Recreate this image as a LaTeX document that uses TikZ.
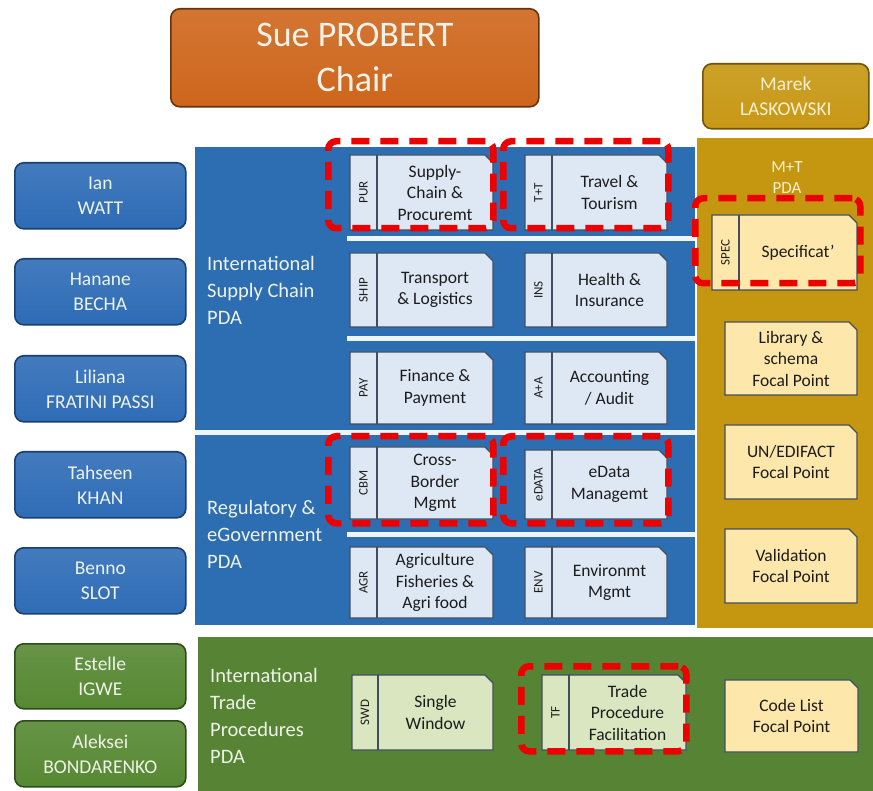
\documentclass[tikz,border=0pt]{standalone}
\usepackage{fontspec}
\setmainfont{Carlito}
\usetikzlibrary{calc}

\definecolor{panelblue}{RGB}{45,110,178}
\definecolor{btnblue}{RGB}{46,108,182}
\definecolor{btnblueedge}{RGB}{26,64,112}
\definecolor{cardblue}{RGB}{222,232,244}
\definecolor{panelgold}{RGB}{197,150,16}
\definecolor{btngold}{RGB}{200,152,22}
\definecolor{btngoldedge}{RGB}{112,84,8}
\definecolor{cardgold}{RGB}{253,231,170}
\definecolor{panelgreen}{RGB}{86,132,52}
\definecolor{btngreen}{RGB}{86,136,50}
\definecolor{btngreenedge}{RGB}{44,76,26}
\definecolor{cardgreen}{RGB}{218,230,192}
\definecolor{chairorange}{RGB}{206,102,28}
\definecolor{chairedge}{RGB}{104,50,12}
\definecolor{cardedge}{RGB}{66,78,96}
\definecolor{paletext}{RGB}{238,242,232}
\definecolor{goldtext}{RGB}{250,240,205}
\definecolor{inktext}{RGB}{28,28,28}
\definecolor{sepwhite}{RGB}{238,245,250}
\definecolor{markred}{RGB}{236,0,0}

% card with a tag strip on its left and a clipped top-right corner
\newcommand\tagcard[9]{%
  \node[cardframe, minimum width=#4, minimum height=#5] (#1) at (#2,#3) {};
  \path[cardbody, fill=#7] (#1.north west) -- ([xshift=-8pt]#1.north east)
    -- ([yshift=-8pt]#1.north east) -- (#1.south east) -- (#1.south west) -- cycle;
  \draw[divider] ([xshift=#6pt]#1.north west) -- ([xshift=#6pt]#1.south west);
  \node[tagtext] (#1-tag) at ([xshift=#6pt/2]#1.west) {#8};
  \node[cardtext] (#1-txt) at ([xshift=#6pt/2]#1.center) {#9};
}
% card without a tag strip
\newcommand\plaincard[7]{%
  \node[cardframe, minimum width=#4, minimum height=#5] (#1) at (#2,#3) {};
  \path[cardbody, fill=#6] (#1.north west) -- ([xshift=-8pt]#1.north east)
    -- ([yshift=-8pt]#1.north east) -- (#1.south east) -- (#1.south west) -- cycle;
  \node[cardtext] (#1-txt) at (#1.center) {#7};
}

\begin{document}
\begin{tikzpicture}[x=1pt,y=-1pt,
  panel/.style={anchor=north west, inner sep=0, outer sep=0, draw=none},
  button/.style={anchor=north west, inner sep=0, rounded corners=9pt, line width=1.6pt,
    align=center, font=\fontsize{19.5}{25}\selectfont},
  bluebtn/.style={button, draw=btnblueedge, top color=btnblue!90!white, bottom color=btnblue, text=paletext},
  greenbtn/.style={button, draw=btngreenedge, top color=btngreen!90!white, bottom color=btngreen, text=paletext},
  goldbtn/.style={button, draw=btngoldedge, top color=btngold!92!white, bottom color=btngold, text=goldtext},
  chairbtn/.style={button, draw=chairedge, top color=chairorange!90!white, bottom color=chairorange,
    text=paletext, font=\fontsize{36}{45}\selectfont},
  pdalabel/.style={anchor=west, align=left, text=paletext, inner sep=0, font=\fontsize{20.5}{27}\selectfont},
  sepline/.style={draw=sepwhite, line width=5pt},
  cardframe/.style={anchor=north west, inner sep=0, outer sep=0},
  cardbody/.style={draw=cardedge, line width=1.3pt},
  divider/.style={draw=cardedge, line width=1.3pt},
  tagtext/.style={rotate=90, inner sep=0, text=inktext, font=\fontsize{13}{14}\selectfont},
  cardtext/.style={align=center, inner sep=0, text=inktext, font=\fontsize{17.5}{21.5}\selectfont},
  markbox/.style={anchor=north west, inner sep=0, draw=markred, line width=6.5pt,
    dash pattern=on 18pt off 11pt, rounded corners=8pt}
]
\useasboundingbox (0,0) rectangle (873,791);
\fill[white] (0,0) rectangle (873,791);

% background panels
\node[panel, fill=panelblue, minimum width=500, minimum height=478] (bluepanel) at (195,147) {};
\node[panel, fill=panelgold, minimum width=176, minimum height=490] (goldpanel) at (697,138) {};
\node[panel, fill=panelgreen, minimum width=675, minimum height=154] (greenpanel) at (198,637) {};

% white separators inside the blue panel
\draw[sepline] (347,239) -- (695,239);
\draw[sepline] (347,339) -- (695,339);
\draw[sepline] (195,433) -- (695,433);
\draw[sepline] (347,534) -- (695,534);

% chair and leads
\node[chairbtn, minimum width=368, minimum height=98] (chair) at (170,8) {Sue PROBERT\\Chair};
\node[goldbtn, minimum width=166, minimum height=65] (marek) at (702,63) {Marek\\LASKOWSKI};

\node[bluebtn, minimum width=171, minimum height=66] (ian) at (14,162) {Ian\\WATT};
\node[bluebtn, minimum width=171, minimum height=66] (hanane) at (14,258) {Hanane\\BECHA};
\node[bluebtn, minimum width=171, minimum height=66] (liliana) at (14,355) {Liliana\\FRATINI PASSI};
\node[bluebtn, minimum width=171, minimum height=66] (tahseen) at (14,451) {Tahseen\\KHAN};
\node[bluebtn, minimum width=171, minimum height=66] (benno) at (14,547) {Benno\\SLOT};
\node[greenbtn, minimum width=171, minimum height=65] (estelle) at (14,643) {Estelle\\IGWE};
\node[greenbtn, minimum width=171, minimum height=66] (aleksei) at (14,720) {Aleksei\\BONDARENKO};

% PDA titles
\node[pdalabel] (iscpda) at (207,290) {International\\Supply Chain\\PDA};
\node[pdalabel] (regpda) at (207,534) {Regulatory \&\\eGovernment\\PDA};
\node[pdalabel] (itppda) at (210,716) {International\\Trade\\Procedures\\PDA};
\node[align=center, inner sep=0, text=goldtext, font=\fontsize{17}{21}\selectfont] (mtpda) at (787,178) {M+T\\PDA};

% International Supply Chain domains
\tagcard{pur}{350}{155}{143}{75}{27}{cardblue}{PUR}{Supply-\\Chain \&\\Procuremt}
\tagcard{tt}{525}{155}{142}{75}{27}{cardblue}{T+T}{Travel \&\\Tourism}
\tagcard{ship}{350}{253}{143}{74}{27}{cardblue}{SHIP}{Transport\\\& Logistics}
\tagcard{ins}{525}{253}{142}{74}{27}{cardblue}{INS}{Health \&\\Insurance}
\tagcard{pay}{350}{352}{143}{72}{27}{cardblue}{PAY}{Finance \&\\Payment}
\tagcard{aa}{525}{352}{142}{72}{27}{cardblue}{A+A}{Accounting\\/ Audit}

% Regulatory & eGovernment domains
\tagcard{cbm}{350}{447}{143}{72}{27}{cardblue}{CBM}{Cross-\\Border\\Mgmt}
\tagcard{edata}{525}{450}{142}{69}{27}{cardblue}{eDATA}{eData\\Managemt}
\tagcard{agr}{350}{547}{143}{71}{27}{cardblue}{AGR}{Agriculture\\Fisheries \&\\Agri food}
\tagcard{env}{525}{547}{142}{71}{27}{cardblue}{ENV}{Environmt\\Mgmt}

% M+T focal points
\tagcard{spec}{712}{215}{145}{75}{27}{cardgold}{SPEC}{Specificat'}
\plaincard{lib}{725}{322}{132}{73}{cardgold}{Library \&\\schema\\Focal Point}
\plaincard{edifact}{725}{425}{132}{74}{cardgold}{UN/EDIFACT\\Focal Point}
\plaincard{valid}{725}{529}{132}{74}{cardgold}{Validation\\Focal Point}
\plaincard{codelist}{725}{680}{133}{72}{cardgold}{Code List\\Focal Point}

% International Trade Procedures domains
\tagcard{swd}{352}{675}{141}{75}{26}{cardgreen}{SWD}{Single\\Window}
\tagcard{tf}{542}{675}{144}{75}{27}{cardgreen}{TF}{Trade\\Procedure\\Facilitation}

% highlighted domains
\node[markbox, minimum width=165, minimum height=87] (mark-pur) at (325,138) {};
\node[markbox, minimum width=165, minimum height=87] (mark-tt) at (500,138) {};
\node[markbox, minimum width=165, minimum height=85] (mark-spec) at (692,195) {};
\node[markbox, minimum width=165, minimum height=87] (mark-cbm) at (325,433) {};
\node[markbox, minimum width=165, minimum height=87] (mark-edata) at (500,433) {};
\node[markbox, minimum width=165, minimum height=85] (mark-tf) at (518,663) {};
\end{tikzpicture}
\end{document}
